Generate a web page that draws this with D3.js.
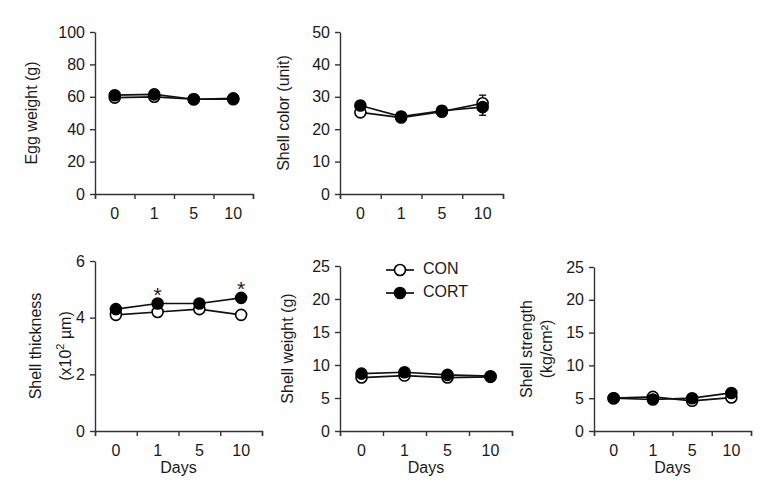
<!DOCTYPE html>
<html>
<head>
<meta charset="utf-8">
<script src="https://cdn.jsdelivr.net/npm/d3@7"></script>
<style>
  body { margin: 0; background: #fff; }
  text { font-family: "Liberation Sans", Arial, sans-serif; fill: #1a1a1a; }
  .axis path, .axis line { stroke: #333; stroke-width: 1.4; }
  .axis text { font-size: 16px; font-family: "Liberation Sans", Arial, sans-serif; fill: #1a1a1a; }
</style>
</head>
<body>
<script>
// categories on the x axis
const days = ["0", "1", "5", "10"];

// Egg weight (g)
const eggCON = [59.5, 60.0, 58.5, 58.5];
const eggCORT = [61.0, 61.5, 58.5, 59.0];

// Shell color (unit)
const colorCON = [25.2, 23.6, 25.4, 28.0];
const colorCORT = [27.3, 23.9, 25.7, 26.8];
const colorCONerr = [0.8, 1.0, 1.0, 2.5];
const colorCORTerr = [1.3, 1.3, 1.4, 2.5];

// Shell thickness (x10^2 um)
const thickCON = [4.1, 4.2, 4.3, 4.1];
const thickCORT = [4.3, 4.5, 4.5, 4.7];
const thickCONerr = [0.05, 0.1, 0.05, 0.12];
const thickStars = ["1", "10"];

// Shell weight (g)
const weightCON = [8.1, 8.4, 8.1, 8.2];
const weightCORT = [8.7, 8.9, 8.5, 8.3];

// Shell strength (kg/cm2)
const strengthCON = [5.0, 5.2, 4.6, 5.1];
const strengthCORT = [5.0, 4.8, 5.0, 5.8];

// panel layout (axis extents in px)
const panels = [
  {x0: 95, x1: 253, yTop: 32, yBot: 194, max: 100, step: 20, con: eggCON, cort: eggCORT,
   label: ["Egg weight (g)"], labelX: [33], days: false},
  {x0: 340, x1: 503, yTop: 32, yBot: 194, max: 50, step: 10, con: colorCON, cort: colorCORT,
   conErr: colorCONerr, cortErr: colorCORTerr, label: ["Shell color (unit)"], labelX: [285], days: false},
  {x0: 95, x1: 262, yTop: 261, yBot: 431, max: 6, step: 2, con: thickCON, cort: thickCORT,
   conErr: thickCONerr, label: ["Shell thickness", "thick2"], labelX: [37, 67], days: true, stars: thickStars},
  {x0: 340, x1: 512, yTop: 266, yBot: 431, max: 25, step: 5, con: weightCON, cort: weightCORT,
   label: ["Shell weight (g)"], labelX: [289], days: true, legend: true},
  {x0: 594, x1: 751, yTop: 267, yBot: 431, max: 25, step: 5, con: strengthCON, cort: strengthCORT,
   label: ["Shell strength", "(kg/cm²)"], labelX: [528, 548], days: true}
];

const svg = d3.select('body').append('svg')
  .attr('width', 776)
  .attr('height', 493);

panels.forEach(p => drawPanel(p));

function drawPanel(p) {
  const g = svg.append('g');

  const x = d3.scaleBand().domain(days).range([p.x0, p.x1]);
  const xEdge = d3.scaleLinear().domain([0, days.length]).range([p.x0, p.x1]);
  const y = d3.scaleLinear().domain([0, p.max]).range([p.yBot, p.yTop]);

  // x axis: line + boundary ticks, then labels centered in bands
  g.append('g')
    .attr('class', 'axis')
    .attr('transform', `translate(0,${p.yBot})`)
    .call(d3.axisBottom(xEdge).ticks(days.length).tickSize(5).tickSizeOuter(5).tickFormat(''));
  g.append('g')
    .attr('class', 'axis')
    .attr('transform', `translate(0,${p.yBot})`)
    .call(d3.axisBottom(x).tickSize(0).tickPadding(14))
    .call(a => a.select('.domain').remove());

  // y axis
  g.append('g')
    .attr('class', 'axis')
    .attr('transform', `translate(${p.x0},0)`)
    .call(d3.axisLeft(y)
      .tickValues(d3.range(0, p.max + 0.001, p.step))
      .tickFormat(d3.format('d'))
      .tickSize(5).tickSizeOuter(0).tickPadding(5));

  // y label
  const midY = (p.yTop + p.yBot) / 2;
  p.label.forEach((t, i) => {
    const txt = g.append('text')
      .attr('transform', `translate(${p.labelX[i]},${midY}) rotate(-90)`)
      .attr('text-anchor', 'middle')
      .attr('dominant-baseline', 'middle')
      .style('font-size', '16px');
    if (t === 'thick2') {
      txt.append('tspan').text('(x10');
      txt.append('tspan').text('2').attr('baseline-shift', 'super').style('font-size', '11px');
      txt.append('tspan').text(' µm)');
    } else {
      txt.text(t);
    }
  });

  if (p.days) {
    g.append('text')
      .attr('x', (p.x0 + p.x1) / 2)
      .attr('y', p.yBot + 42)
      .attr('text-anchor', 'middle')
      .style('font-size', '16px')
      .text('Days');
  }

  const cx = (d, i) => x(days[i]) + x.bandwidth() / 2;
  const line = d3.line().x(cx).y(d => y(d));

  // error bars
  [[p.con, p.conErr], [p.cort, p.cortErr]].forEach(([vals, errs]) => {
    if (!errs) return;
    vals.forEach((v, i) => {
      const xc = cx(v, i);
      g.append('line').attr('x1', xc).attr('x2', xc)
        .attr('y1', y(v - errs[i])).attr('y2', y(v + errs[i]))
        .attr('stroke', '#111').attr('stroke-width', 1.4);
      [v - errs[i], v + errs[i]].forEach(e => {
        g.append('line').attr('x1', xc - 3.5).attr('x2', xc + 3.5)
          .attr('y1', y(e)).attr('y2', y(e))
          .attr('stroke', '#111').attr('stroke-width', 1.4);
      });
    });
  });

  // series: CON (open) then CORT (filled)
  [[p.con, '#fff'], [p.cort, '#000']].forEach(([vals, fill]) => {
    g.append('path').datum(vals)
      .attr('d', line)
      .attr('fill', 'none')
      .attr('stroke', '#111')
      .attr('stroke-width', 1.7);
    g.selectAll(null).data(vals).enter()
      .append('circle')
      .attr('cx', cx)
      .attr('cy', d => y(d))
      .attr('r', 5.5)
      .attr('fill', fill)
      .attr('stroke', '#000')
      .attr('stroke-width', 1.6);
  });

  // significance stars
  if (p.stars) {
    p.stars.forEach(s => {
      const i = days.indexOf(s);
      g.append('text')
        .attr('x', x(s) + x.bandwidth() / 2)
        .attr('y', y(p.cort[i]) - 2)
        .attr('text-anchor', 'middle')
        .style('font-size', '21px')
        .text('*');
    });
  }

  // legend
  if (p.legend) {
    const items = [['CON', '#fff', 270], ['CORT', '#000', 293]];
    items.forEach(([name, fill, ly]) => {
      g.append('line').attr('x1', 386).attr('x2', 414).attr('y1', ly).attr('y2', ly)
        .attr('stroke', '#111').attr('stroke-width', 1.7);
      g.append('circle').attr('cx', 400).attr('cy', ly).attr('r', 5.5)
        .attr('fill', fill).attr('stroke', '#000').attr('stroke-width', 1.6);
      g.append('text').attr('x', 423).attr('y', ly)
        .attr('dominant-baseline', 'middle')
        .style('font-size', '16px')
        .text(name);
    });
  }
}
</script>
</body>
</html>
